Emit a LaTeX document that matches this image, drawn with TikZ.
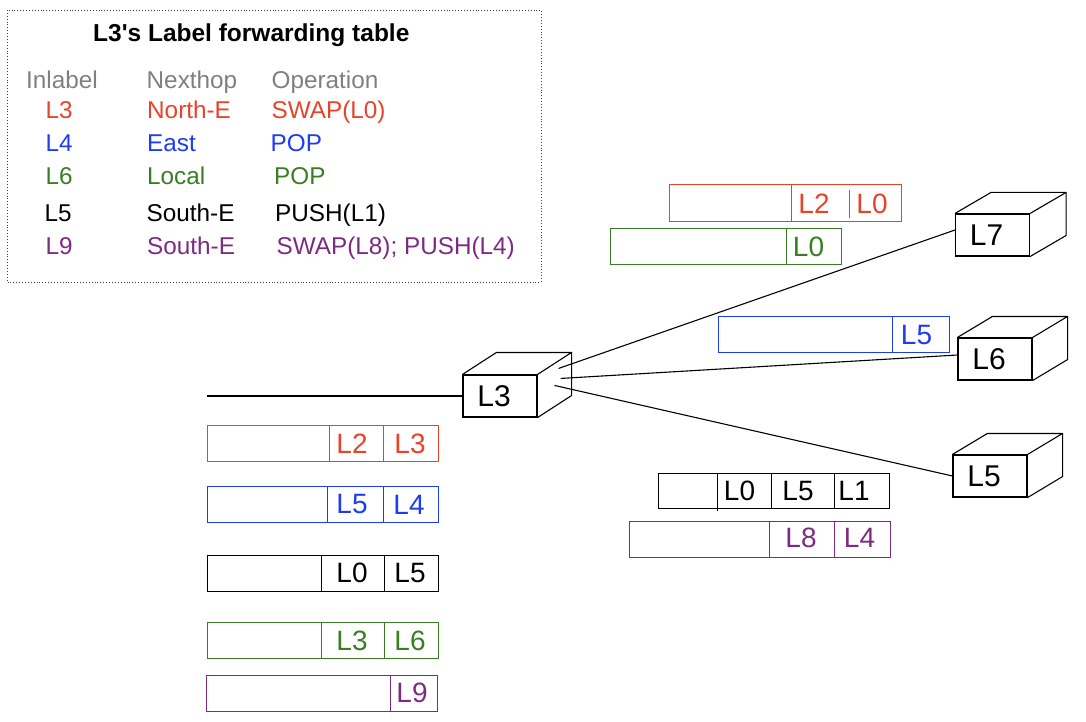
\documentclass[tikz,border=0pt]{standalone}
\usepackage{fontspec}
\newfontfamily\lsans{Liberation Sans}
\usetikzlibrary{calc}
\definecolor{cRed}{RGB}{232,67,42}
\definecolor{cBlue}{RGB}{30,60,245}
\definecolor{cGreen}{RGB}{58,125,34}
\definecolor{cPurple}{RGB}{125,42,131}
\definecolor{cGray}{RGB}{128,128,128}
\tikzset{
  tbl/.style={font=\lsans\fontsize{24.3}{28}\selectfont, inner sep=0pt, anchor=base west},
  plab/.style={font=\lsans\fontsize{28}{32}\selectfont, inner sep=0pt},
  pk/.style={line width=1pt},
  cube/.style={draw, line width=1.1pt, minimum width=74pt, minimum height=42pt, inner sep=0pt, font=\lsans\fontsize{30}{34}\selectfont},
  cubeline/.style={line width=1.1pt, line join=round},
  link/.style={line width=1.1pt}
}
\newcommand\cubefaces[3]{%
  \draw[cubeline] (#1.north west) -- ++(#2,-#3) -- ($(#1.north east)+(#2,-#3)$) -- (#1.north east);
  \draw[cubeline] ($(#1.north east)+(#2,-#3)$) -- ($(#1.south east)+(#2,-#3)$) -- (#1.south east);
}
\begin{document}
\begin{tikzpicture}[x=1pt,y=-1pt]
\useasboundingbox (0,0) rectangle (1086,722);

% ---------- table ----------
\draw[dotted, line width=0.9pt, black!75] (7,10) rectangle (541,282);
\node[tbl, font=\lsans\bfseries\fontsize{24.5}{28}\selectfont] (title) at (93,41.6) {L3's Label forwarding table};
\node[tbl, text=cGray] (hin) at (26,88.6) {Inlabel};
\node[tbl, text=cGray] (hnh) at (146.5,88.6) {Nexthop};
\node[tbl, text=cGray] (hop) at (271.5,88.6) {Operation};

\node[tbl, text=cRed] (r1a) at (45.5,119) {L3};
\node[tbl, text=cRed] (r1b) at (147,119) {North-E};
\node[tbl, text=cRed] (r1c) at (271.5,119) {SWAP(L0)};

\node[tbl, text=cBlue] (r2a) at (45.5,152) {L4};
\node[tbl, text=cBlue] (r2b) at (147,152) {East};
\node[tbl, text=cBlue] (r2c) at (270.5,152) {POP};

\node[tbl, text=cGreen] (r3a) at (45.5,184.5) {L6};
\node[tbl, text=cGreen] (r3b) at (147,184.5) {Local};
\node[tbl, text=cGreen] (r3c) at (274,184.5) {POP};

\node[tbl] (r4a) at (44.5,221.5) {L5};
\node[tbl] (r4b) at (146.5,221.5) {South-E};
\node[tbl] (r4c) at (275,221.5) {PUSH(L1)};

\node[tbl, text=cPurple] (r5a) at (45.5,254) {L9};
\node[tbl, text=cPurple] (r5b) at (147,254) {South-E};
\node[tbl, text=cPurple] (r5c) at (276.5,254) {SWAP(L8); PUSH(L4)};

% ---------- routers ----------
\node[cube] (L3) at (500,396) {L3\hspace*{12pt}};
\node[cube] (L7) at (992.5,235) {L7\hspace*{12pt}};
\node[cube] (L6) at (995,359) {L6\hspace*{12pt}};
\node[cube] (L5) at (990,476) {L5\hspace*{12pt}};

\coordinate (in) at (207,396);
\coordinate (p7) at ($(L3.north east)+(21,-6)$);
\coordinate (p6) at ($(L3.north east)+(23,4)$);
\coordinate (p5) at ($(L3.north east)+(17,11)$);

\draw[link] (in) -- (L3.west);
\draw[link] (p7) -- ([yshift=5pt]L7.west);
\draw[link] (p6) -- ([yshift=4pt]L6.west);
\draw[link] (p5) -- (L5.west);

\cubefaces{L3}{34}{22}
\cubefaces{L7}{36}{21}
\cubefaces{L6}{35}{21}
\cubefaces{L5}{35}{21}

% ---------- left packets ----------
\draw[pk, cRed] (207,425) rectangle (438,461);
\draw[pk, cRed] (329,425) -- (329,461) (383,425) -- (383,461);
\node[plab, text=cRed] (a1) at (352,444) {L2};
\node[plab, text=cRed] (a2) at (410,444) {L3};

\draw[pk, cBlue] (207,486) rectangle (438,522);
\draw[pk, cBlue] (327,486) -- (327,522) (383,486) -- (383,522);
\node[plab, text=cBlue] (b1) at (352,504.5) {L5};
\node[plab, text=cBlue] (b2) at (409,504.5) {L4};

\draw[pk, black] (207,555) rectangle (438,591);
\draw[pk, black] (321,555) -- (321,591) (384,555) -- (384,591);
\node[plab] (c1) at (352,573) {L0};
\node[plab] (c2) at (410,573) {L5};

\draw[pk, cGreen] (207,622) rectangle (438,658);
\draw[pk, cGreen] (321,622) -- (321,658) (384,622) -- (384,658);
\node[plab, text=cGreen] (d1) at (352,641) {L3};
\node[plab, text=cGreen] (d2) at (410,641) {L6};

\draw[pk, cPurple] (206,675) rectangle (437,711);
\draw[pk, cPurple] (390,675) -- (390,711);
\node[plab, text=cPurple] (e1) at (412,693) {L9};

% ---------- right packets ----------
\draw[pk, cRed] (669,185) rectangle (901,221);
\draw[pk, cRed] (791,185) -- (791,221) (849,190) -- (849,218);
\node[plab, text=cRed] (f1) at (814,204) {L2};
\node[plab, text=cRed] (f2) at (872,204) {L0};

\draw[pk, cGreen] (610,228) rectangle (841,264);
\draw[pk, cGreen] (786,228) -- (786,264);
\node[plab, text=cGreen] (g1) at (808.5,247) {L0};

\draw[pk, cBlue] (718,316) rectangle (949,352);
\draw[pk, cBlue] (892,316) -- (892,352);
\node[plab, text=cBlue] (h1) at (916.5,335) {L5};

\draw[pk, black] (658,473) rectangle (889,508);
\draw[pk, black] (717,473) -- (717,511) (771,473) -- (771,508) (834,473) -- (834,508);
\node[plab] (i1) at (739.5,491) {L0};
\node[plab] (i2) at (798,491) {L5};
\node[plab] (i3) at (854,491) {L1};

\draw[pk, cPurple] (629,521) rectangle (890,557);
\draw[pk, cPurple] (769,521) -- (769,557) (834,521) -- (834,557);
\node[plab, text=cPurple] (j1) at (801,538) {L8};
\node[plab, text=cPurple] (j2) at (859.5,538) {L4};
\end{tikzpicture}
\end{document}
